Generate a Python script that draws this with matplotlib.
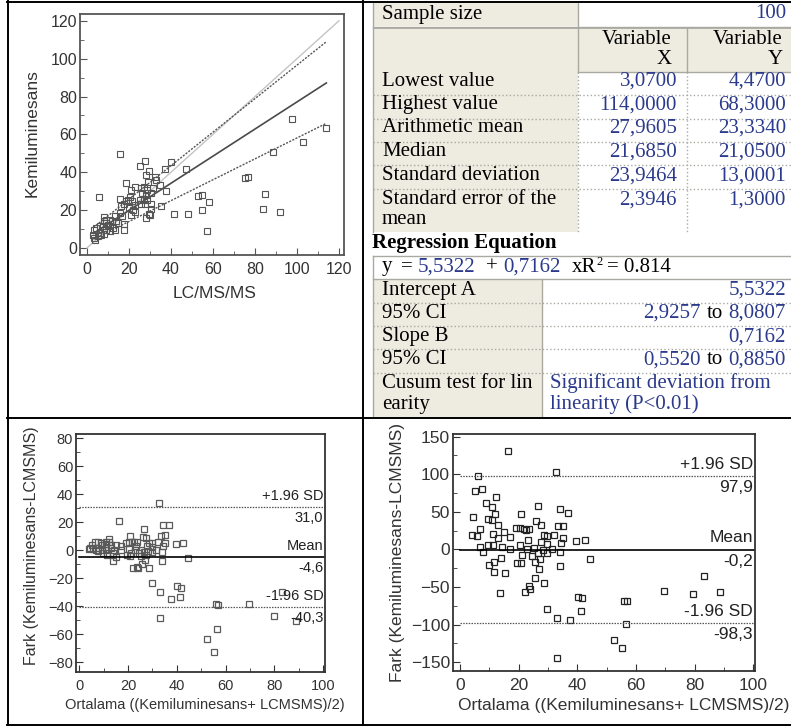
import matplotlib
matplotlib.use("Agg")
import matplotlib.pyplot as plt
from matplotlib.ticker import MultipleLocator
from matplotlib.patches import Rectangle

###### Data
lcms = [15.9, 5.6, 25.1, 27.8, 40.1, 37.4, 47.2, 28.3, 29.7, 32.3, 33.1, 29.1, 34.6, 18.8, 27.0,
        22.9, 21.1, 25.9, 28.6, 31.5, 30.4, 37.8, 26.2, 28.3, 15.9, 18.8, 17.5, 19.6, 20.4, 21.6,
        22.7, 25.1, 25.6, 27.5, 27.2, 28.8, 30.4, 16.4, 20.0, 21.9, 22.7, 35.1, 30.4, 29.4, 28.3,
        30.2, 41.3, 48.2, 52.8, 54.9, 55.0, 57.9, 57.2, 75.2, 76.6, 84.6, 84.0, 91.7, 88.7, 97.8,
        103.0, 114.0, 17.6, 17.6, 16.9, 13.2, 13.2, 14.0, 10.8, 10.8, 8.9, 7.9, 7.9, 9.2, 6.0,
        4.5, 3.2, 3.5, 3.07, 5.2, 6.8, 7.6, 9.2, 12.1, 14.8, 6.0, 10.0, 12.4, 3.7, 15.6, 21.1, 7.9, 10.8]
kemi = [49.6, 26.9, 43.4, 45.9, 45.2, 41.7, 41.7, 38.7, 40.8, 37.6, 35.9, 35.1, 33.4, 34.1, 32.2,
        32.0, 30.8, 31.5, 30.8, 31.5, 29.0, 30.1, 29.0, 28.1, 25.8, 24.6, 23.4, 25.5, 26.7, 24.6,
        22.8, 25.5, 23.4, 23.4, 25.8, 25.5, 23.4, 22.0, 21.1, 20.2, 19.0, 22.3, 20.6, 17.8, 15.8,
        17.6, 17.9, 18.1, 27.6, 28.1, 19.9, 24.3, 9.1, 36.9, 37.4, 28.6, 20.7, 19.0, 50.6, 68.3,
        56.2, 63.3, 9.7, 12.8, 17.0, 16.7, 9.7, 14.4, 11.4, 14.9, 13.2, 16.3, 7.6, 9.7, 7.9,
        10.5, 9.3, 5.4, 7.0, 6.2, 7.0, 11.4, 14.9, 14.1, 13.2, 11.4, 12.3, 10.5, 4.47, 18.5, 17.6, 14.1, 8.8]

intercept, slope = 5.5322, 0.7162
int_ci = (2.9257, 8.0807)
slope_ci = (0.5520, 0.8850)
x_min, x_max = 3.07, 114.0

ba_diff_lines = [31.0, -4.6, -40.3]
ba_diff_top = ["+1.96 SD", "Mean", "-1.96 SD"]
ba_diff_bottom = ["31,0", "-4,6", "-40,3"]
ba_pct_lines = [97.9, -0.2, -98.3]
ba_pct_top = ["+1.96 SD", "Mean", "-1.96 SD"]
ba_pct_bottom = ["97,9", "-0,2", "-98,3"]

stat_labels = ["Lowest value", "Highest value", "Arithmetic mean", "Median",
               "Standard deviation", "Standard error of the"]
var_x = ["3,0700", "114,0000", "27,9605", "21,6850", "23,9464", "2,3946"]
var_y = ["4,4700", "68,3000", "23,3340", "21,0500", "13,0001", "1,3000"]
reg_labels = ["Intercept A", "95% CI", "Slope B", "95% CI", "Cusum test for lin"]

# Bland-Altman values from the paired measurements
ba_mean = [(a + b) / 2 for a, b in zip(lcms, kemi)]
ba_diff = [b - a for a, b in zip(lcms, kemi)]
ba_pct = [100 * d / m for d, m in zip(ba_diff, ba_mean)]

BEIGE = "#EEECE1"
BLUE = "#2B3A8C"
GRAYLINE = "#A9A9A2"
SANS = "Liberation Sans"
SERIF = "Liberation Serif"
TFS = 15
W, H = 791, 726

fig = plt.figure(figsize=(7.91, 7.26), dpi=100)

###### Table / grid in pixel coordinates
bg = fig.add_axes([0, 0, 1, 1])
bg.set_xlim(0, W)
bg.set_ylim(H, 0)
bg.axis("off")

def rect(x0, y0, x1, y1, c):
    bg.add_patch(Rectangle((x0, y0), x1 - x0, y1 - y0, facecolor=c, edgecolor="none"))

def hline(y, x0, x1, c=GRAYLINE, ls="-", lw=1.0):
    bg.plot([x0, x1], [y, y], color=c, ls=ls, lw=lw)

def vline(x, y0, y1, c=GRAYLINE, ls="-", lw=1.0):
    bg.plot([x, x], [y0, y1], color=c, ls=ls, lw=lw)

def txt(x, y, s, c="black", ha="left", **kw):
    bg.text(x, y, s, color=c, ha=ha, va="center", family=SERIF, fontsize=TFS, **kw)

rect(373, 3, 578, 26, BEIGE)
rect(373, 28, 578, 232, BEIGE)
rect(578, 28, 791, 72, BEIGE)
rect(373, 279, 542, 417, BEIGE)

hline(26.5, 373, 791)
hline(28, 373, 791, lw=0.6)
hline(72, 578, 791)
vline(373, 2, 232)
vline(578, 2, 72)
vline(687, 28, 72)
vline(578, 72, 232, ls=":")
vline(687, 72, 232, ls=":")
row_y = [81, 105, 128, 152, 176, 200]
for ysep in [95, 119, 142, 165, 189]:
    hline(ysep, 373, 791, ls=":")

txt(382, 14, "Sample size")
txt(786, 14, "100", BLUE, ha="right")
txt(672, 39, "Variable", ha="right")
txt(672, 60, "X", ha="right")
txt(783, 39, "Variable", ha="right")
txt(783, 60, "Y", ha="right")
for yy, lab, vx, vy in zip(row_y, stat_labels, var_x, var_y):
    txt(382, yy, lab)
    txt(677, yy, vx, BLUE, ha="right")
    txt(786, yy, vy, BLUE, ha="right")
txt(382, 220, "mean")

bg.text(372, 243, "Regression Equation", ha="left", va="center", family=SERIF,
        fontsize=TFS, fontweight="bold")
hline(256, 373, 791)
vline(373, 256, 417)
hline(279, 373, 791)
vline(542, 279, 417)
for ysep in [303, 326, 349, 373]:
    hline(ysep, 373, 791, ls=":")

txt(382, 267, "y")
txt(401, 267, "=")
txt(418, 267, "5,5322", BLUE)
txt(486, 267, "+")
txt(503, 267, "0,7162", BLUE)
txt(572, 267, "xR")
bg.text(596, 262, "2", ha="left", va="center", family=SERIF, fontsize=9)
txt(607, 267, "= 0.814")

reg_y = [290, 313, 337, 360, 383]
for yy, lab in zip(reg_y, reg_labels):
    txt(382, yy, lab)
txt(382, 404, "earity")
txt(786, reg_y[0], f"{intercept:.4f}".replace(".", ","), BLUE, ha="right")
txt(786, reg_y[2], f"{slope:.4f}".replace(".", ","), BLUE, ha="right")
for yy, ci in [(reg_y[1], int_ci), (reg_y[3], slope_ci)]:
    txt(701, yy, f"{ci[0]:.4f}".replace(".", ","), BLUE, ha="right")
    txt(715, yy, "to", ha="center")
    txt(786, yy, f"{ci[1]:.4f}".replace(".", ","), BLUE, ha="right")
txt(550, 383, "Significant deviation from", BLUE)
txt(550, 404, "linearity (P<0.01)", BLUE)

# black cell borders
hline(1.5, 7, 791, c="black", lw=1.4)
hline(724.5, 7, 791, c="black", lw=1.4)
hline(418, 7, 791, c="black", lw=1.4)
vline(8, 1, 725, c="black", lw=1.4)
vline(363, 1, 725, c="black", lw=1.4)


def style_axes(ax, tick_fs, spine_c="#444444"):
    for s in ax.spines.values():
        s.set_color(spine_c)
        s.set_linewidth(1.3)
    ax.tick_params(which="both", direction="in", colors=spine_c, labelcolor="#333333",
                   labelsize=tick_fs)
    ax.tick_params(which="major", length=5, width=0.8)
    ax.tick_params(which="minor", length=3, width=0.6)
    ax.tick_params(axis="y", pad=2)
    ax.tick_params(axis="x", pad=5)
    for lab in ax.get_xticklabels() + ax.get_yticklabels():
        lab.set_family(SANS)


###### Scatter with regression
ax1 = fig.add_axes([80 / W, 1 - 255 / H, 264 / W, 241 / H])
ax1.plot([0, 120], [0, 120], color="#c4c4c4", lw=1.0)
xs = [x_min, x_max]
ax1.plot(xs, [intercept + slope * x for x in xs], color="#4a4a4a", lw=1.2)
ax1.plot(xs, [int_ci[0] + slope_ci[0] * x for x in xs], color="#555555", lw=1.0, ls=(0, (1.5, 1)))
ax1.plot(xs, [int_ci[1] + slope_ci[1] * x for x in xs], color="#555555", lw=1.0, ls=(0, (1.5, 1)))
ax1.plot(lcms, kemi, "s", ms=4.5, mfc="none", mec="#555555", mew=0.8)
ax1.set_xlim(-3.3, 122.4)
ax1.set_ylim(-3.7, 123.6)
ax1.xaxis.set_major_locator(MultipleLocator(20))
ax1.yaxis.set_major_locator(MultipleLocator(20))
ax1.xaxis.set_minor_locator(MultipleLocator(10))
ax1.yaxis.set_minor_locator(MultipleLocator(10))
style_axes(ax1, 11.5, "#555555")
ax1.set_xlabel("LC/MS/MS", family=SANS, fontsize=12.5, color="#333333", va="center")
ax1.set_ylabel("Kemiluminesans", family=SANS, fontsize=12.5, color="#333333", va="center")
ax1.xaxis.set_label_coords(0.511, -0.158)
ax1.yaxis.set_label_coords(-0.182, 0.506)


###### Bland-Altman plots
def bland_altman(rect_px, y, lines, tops, bottoms, xlim, ylim, ymajor, yminor,
                 tick_fs, xlab_fs, ylab_fs, sd_fs, mec, ylab_xy, xlab_xy):
    x0, y0, x1, y1 = rect_px
    ax = fig.add_axes([x0 / W, 1 - y1 / H, (x1 - x0) / W, (y1 - y0) / H])
    ax.plot(ba_mean, y, "s", ms=4.5, mfc="none", mec=mec, mew=0.9)
    for i, (v, t, b) in enumerate(zip(lines, tops, bottoms)):
        if i == 1:
            ax.plot([0, xlim[1]], [v, v], color="black", lw=1.2)
        else:
            ax.plot([0, xlim[1]], [v, v], color="#555555", lw=0.9, ls=(0, (1.2, 1)))
        ax.annotate(t, (100, v), xytext=(0, 3), textcoords="offset points", ha="right",
                    va="bottom", family=SANS, fontsize=sd_fs, color="#222222")
        ax.annotate(b, (100, v), xytext=(0, -3), textcoords="offset points", ha="right",
                    va="top", family=SANS, fontsize=sd_fs, color="#222222")
    ax.set_xlim(*xlim)
    ax.set_ylim(*ylim)
    ax.xaxis.set_major_locator(MultipleLocator(20))
    ax.xaxis.set_minor_locator(MultipleLocator(10))
    ax.yaxis.set_major_locator(MultipleLocator(ymajor))
    ax.yaxis.set_minor_locator(MultipleLocator(yminor))
    style_axes(ax, tick_fs, "#333333")
    ax.set_xlabel("Ortalama ((Kemiluminesans+ LCMSMS)/2)", family=SANS, fontsize=xlab_fs,
                  color="#333333", va="center")
    ax.set_ylabel("Fark (Kemiluminesans-LCMSMS)", family=SANS, fontsize=ylab_fs,
                  color="#333333", va="center")
    ax.xaxis.set_label_coords(*xlab_xy)
    ax.yaxis.set_label_coords(*ylab_xy)
    return ax


bland_altman((76, 434, 325, 672), ba_diff, ba_diff_lines, ba_diff_top, ba_diff_bottom,
             (-1.35, 100.7), (-86.9, 83.1), 20, 10, 10.5, 10.5, 11.5, 10.5, "#5a5a5a",
             (-0.177, 0.53), (0.518, -0.139))
bland_altman((452.7, 434, 755, 670.7), ba_pct, ba_pct_lines, ba_pct_top, ba_pct_bottom,
             (-2.5, 100.6), (-161.4, 153.6), 50, 25, 12.5, 12.5, 12.5, 12.5, "#222222",
             (-0.184, 0.50), (0.566, -0.145))

fig.savefig("out.png", dpi=100)
